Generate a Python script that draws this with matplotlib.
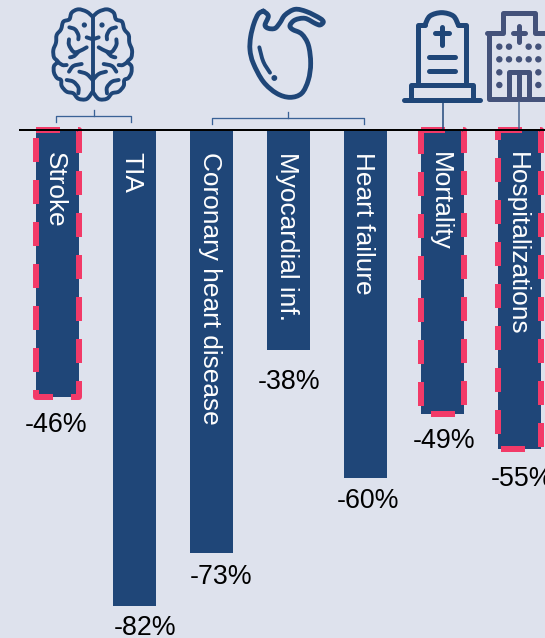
import numpy as np
import matplotlib
matplotlib.use("Agg")
import matplotlib.pyplot as plt
from matplotlib.path import Path
from matplotlib.patches import PathPatch, Rectangle, Circle

plt.rcParams['font.family'] = ['Liberation Sans', 'DejaVu Sans']
plt.rcParams['lines.scale_dashes'] = False

categories = ["Stroke", "TIA", "Coronary heart disease", "Myocardial inf.",
              "Heart failure", "Mortality", "Hospitalizations"]
values = [-46, -82, -73, -38, -60, -49, -55]
value_labels = ["-46%", "-82%", "-73%", "-38%", "-60%", "-49%", "-55%"]
highlighted = ["Stroke", "Mortality", "Hospitalizations"]

# layout only: label offsets in pixels
label_dx = [-1, 11, 10, 0.5, 3, 2, 2.5]
label_dy = [28, 22, 24, 32, 23, 27, 30]
name_dx = [-10, -10, -8.5, -8.5, -9.5, -10, -9.5]

W, H = 545, 638
BG = "#DEE2ED"
NAVY = "#1F4678"
SLATE = "#44527A"
PINK = "#F23A68"
px = 72 / 100

fig = plt.figure(figsize=(W / 100, H / 100), dpi=100, facecolor=BG)
ax = fig.add_axes([0, 0, 1, 1])
ax.set_xlim((0 - 57.5) / 77, (W - 57.5) / 77)
ax.set_ylim(-(H - 130) / 5.8, 130 / 5.8)
ax.axis("off")

x = np.arange(len(categories))
bw = 43 / 77
ax.bar(x, values, width=bw, color=NAVY, zorder=2)

for i, (c, v) in enumerate(zip(categories, values)):
    ax.annotate(c, (i, 0), xytext=(name_dx[i] * px, -22 * px), textcoords="offset points",
                rotation=-90, rotation_mode="anchor", color="white", fontsize=18.9,
                ha="left", va="baseline", zorder=3)
    ax.annotate(value_labels[i], (i, v), xytext=(label_dx[i] * px, -label_dy[i] * px),
                textcoords="offset points", ha="center", va="center", fontsize=19.3,
                color="black", annotation_clip=False, zorder=3)
    if c in highlighted:
        ax.add_patch(Rectangle((i - bw / 2, 0), bw, v, fill=False, edgecolor=PINK,
                               linewidth=6 * px, linestyle=(0, (24 * px, 18 * px)),
                               joinstyle="round", zorder=4))

# overlay in pixel coordinates for the baseline, brackets and pictograms
ov = fig.add_axes([0, 0, 1, 1])
ov.set_xlim(0, W)
ov.set_ylim(H, 0)
ov.axis("off")
ov.patch.set_alpha(0)

ov.plot([19, W], [130, 130], color="black", lw=2 * px, zorder=6, solid_capstyle="butt")


def smooth(pts, closed=False):
    p = np.asarray(pts, float)
    n = len(p)
    verts = [p[0]]
    codes = [Path.MOVETO]
    segs = n if closed else n - 1
    for i in range(segs):
        if closed:
            p0, p1, p2, p3 = p[(i - 1) % n], p[i], p[(i + 1) % n], p[(i + 2) % n]
        else:
            p0, p1, p2, p3 = p[max(i - 1, 0)], p[i], p[i + 1], p[min(i + 2, n - 1)]
        verts += [p1 + (p2 - p0) / 6, p2 - (p3 - p1) / 6, p2]
        codes += [Path.CURVE4] * 3
    return Path(verts, codes)


def stroke(pts, ox, oy, color=NAVY, lw=3.0, is_smooth=True, closed=False, mirror=None):
    pts = np.asarray(pts, float)
    if mirror is not None:
        pts = np.column_stack([2 * mirror - pts[:, 0], pts[:, 1]])
    pts = np.column_stack([ox + pts[:, 0] / 3, oy + pts[:, 1] / 3])
    path = smooth(pts, closed) if is_smooth else Path(pts)
    ov.add_patch(PathPatch(path, fill=False, edgecolor=color, lw=lw * px,
                           capstyle="round", joinstyle="round", zorder=5))


def dot(zx, zy, ox, oy, color=NAVY, r=1.7):
    ov.add_patch(Circle((ox + zx / 3, oy + zy / 3), r, color=color, zorder=5))


# brain
bx, by = 45, 0
brain_half = [
    [(143, 50), (125, 35), (100, 28), (80, 38), (73, 58), (55, 65), (48, 88), (35, 105),
     (33, 128), (25, 150), (27, 172), (38, 185), (27, 198), (27, 218), (36, 234), (48, 240),
     (50, 258), (65, 275), (85, 280), (100, 296), (125, 297), (143, 275)],
    [(73, 82), (90, 88), (100, 105), (100, 118)],
    [(72, 118), (72, 135), (85, 155), (100, 155), (125, 142)],
    [(100, 155), (88, 168), (75, 172)],
    [(38, 185), (52, 195), (65, 195)],
    [(72, 215), (85, 198), (110, 192)],
    [(103, 215), (125, 222), (143, 240)],
    [(65, 240), (85, 245), (100, 262), (100, 280)],
    [(125, 112), (143, 118)],
]
for s in brain_half:
    stroke(s, bx, by, lw=3.9)
    stroke(s, bx, by, lw=3.9, mirror=143)
stroke([(143, 50), (143, 275)], bx, by, lw=3.9, is_smooth=False)
dot(118, 75, bx, by, r=1.9)
dot(171, 75, bx, by, r=1.9)

# heart
hx, hy = 240, 0
heart = [(70, 33), (55, 42), (42, 70), (32, 110), (30, 150), (40, 190), (70, 245), (110, 280),
         (150, 292), (185, 280), (205, 240), (212, 190), (205, 135), (185, 102), (157, 88),
         (150, 76), (165, 60), (195, 55), (225, 70), (240, 75), (250, 66), (240, 55), (200, 35),
         (165, 28), (135, 45), (120, 68), (105, 85), (85, 85), (75, 75), (85, 48), (70, 33)]
stroke(heart, hx, hy, lw=4.8)
stroke([(58, 142), (70, 185), (90, 218)], hx, hy, lw=3.9)
dot(103, 234, hx, hy, r=2.2)

# gravestone
gx, gy = 390, 0
LW_G = 5.0
stroke([(85, 245), (85, 75), (105, 75)], gx, gy, lw=LW_G, is_smooth=False)
stroke([(105, 75), (120, 48), (155, 38), (190, 48), (205, 75)], gx, gy, lw=LW_G)
stroke([(205, 75), (228, 75), (228, 245)], gx, gy, lw=LW_G, is_smooth=False)
stroke([(62, 295), (62, 256), (250, 256), (250, 295)], gx, gy, lw=LW_G, is_smooth=False)
for seg in ([(42, 299), (270, 299)], [(155, 80), (155, 135)], [(135, 100), (178, 100)],
            [(118, 170), (195, 170)], [(118, 212), (195, 212)]):
    stroke(seg, gx, gy, lw=LW_G, is_smooth=False)

# hospital
for seg in ([(290, 100), (340, 100), (340, 40), (435, 40), (435, 100), (465, 100)],
            [(297, 100), (297, 298), (465, 298)],
            [(357, 290), (357, 215), (417, 215), (417, 290)],
            [(387, 78), (387, 125)], [(370, 100), (405, 100)],
            [(387, 222), (387, 290)]):
    stroke(seg, gx, gy, color=SLATE, lw=5.0, is_smooth=False)
for zy, xs in ((140, (328, 357, 416, 445)), (178, (328, 357, 387, 416, 445)),
               (217, (328, 445)), (255, (328, 445))):
    for zx in xs:
        dot(zx, zy, gx, gy, color=SLATE, r=2.5)

# connectors and brackets
BR = "#3A6296"
for pts in ([(56, 122), (56, 116), (131, 116), (131, 122)], [(93.5, 116), (93.5, 110)],
            [(212, 124), (212, 118), (364, 118), (364, 124)], [(287.5, 118), (287.5, 112)]):
    xs, ys = zip(*pts)
    ov.plot(xs, ys, color=BR, lw=1.3 * px, zorder=5)
ov.plot([443, 443], [102, 130], color=NAVY, lw=1.5 * px, zorder=5)
ov.plot([519, 519], [102, 130], color="#4A6590", lw=1.5 * px, zorder=5)

fig.savefig("out.png", dpi=100, facecolor=BG)
